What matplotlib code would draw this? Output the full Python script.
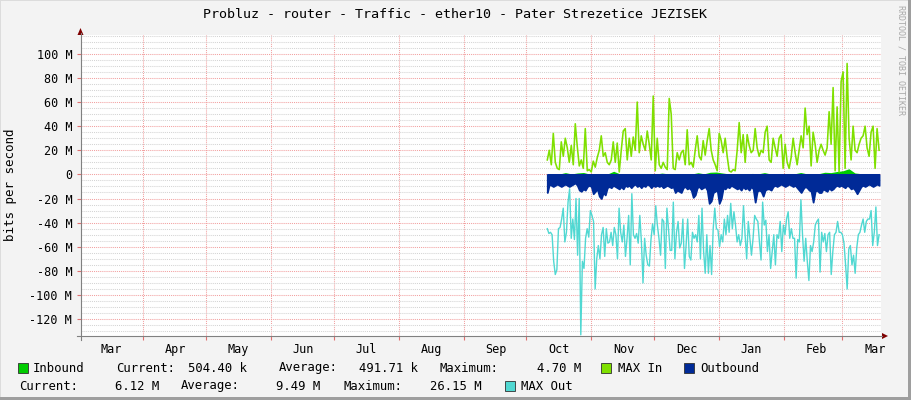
import matplotlib
matplotlib.use("Agg")
import matplotlib.pyplot as plt
import matplotlib.dates as mdates
from matplotlib.patches import Rectangle, Polygon
from matplotlib.lines import Line2D
import numpy as np
from datetime import datetime

plt.rcParams["font.family"] = ["DejaVu Sans Mono"]

# all values in Mbit/s, samples evenly spaced from data_t0 to data_t1
max_in = [12, 20, 8, 34, 10, 5, 4, 27, 15, 30, 22, 10, 24, 8, 42, 23, 7, 12, 5, 38,
          3, 4, 2, 11, 6, 14, 20, 32, 15, 18, 10, 8, 12, 27, 10, 26, 2, 20, 36, 38,
          12, 30, 15, 31, 20, 60, 18, 32, 25, 20, 36, 25, 12, 65, 3, 30, 8, 5, 10, 6,
          4, 63, 50, 5, 4, 18, 12, 18, 20, 8, 37, 8, 10, 6, 20, 32, 15, 12, 28, 16,
          28, 38, 20, 12, 8, 3, 34, 28, 18, 30, 15, 3, 2, 4, 3, 20, 43, 18, 33, 10,
          33, 24, 18, 20, 38, 22, 15, 20, 18, 35, 40, 12, 10, 30, 22, 15, 30, 33, 5, 25,
          10, 5, 14, 30, 18, 8, 20, 32, 22, 55, 33, 40, 7, 35, 25, 10, 20, 25, 20, 16,
          22, 52, 25, 72, 3, 56, 2, 77, 85, 5, 92, 30, 12, 40, 20, 18, 25, 30, 32, 40,
          22, 15, 35, 40, 5, 38, 20]

outbound = [-15, -8, -9, -10, -9, -8, -9, -10, -9, -8, -9, -10, -9, -8, -7, -9, -13, -14, -12, -13,
            -10, -9, -10, -16, -14, -12, -18, -20, -15, -17, -11, -10, -11, -9, -10, -11, -12, -10, -12, -9,
            -10, -9, -11, -9, -8, -10, -9, -11, -9, -10, -8, -9, -11, -9, -10, -9, -10, -9, -11, -10,
            -9, -10, -11, -10, -15, -13, -14, -15, -11, -10, -12, -11, -13, -19, -17, -11, -10, -12, -11, -10,
            -13, -24, -22, -15, -14, -13, -24, -20, -11, -12, -10, -11, -9, -10, -11, -12, -11, -13, -10, -12,
            -11, -13, -10, -12, -23, -14, -13, -14, -18, -13, -12, -12, -13, -10, -9, -10, -9, -8, -9, -10,
            -9, -8, -9, -10, -9, -11, -13, -15, -12, -10, -11, -13, -14, -23, -14, -13, -15, -15, -12, -13,
            -14, -11, -13, -12, -10, -9, -10, -9, -10, -11, -9, -10, -12, -11, -13, -16, -13, -10, -9, -10,
            -9, -8, -9, -10, -9, -8, -9]

max_out = [-45, -49, -48, -50, -72, -83, -79, -45, -44, -37, -28, -56, -48, -23, -12, -53, -37, -54, -20, -67,
           -20, -133, -72, -78, -53, -45, -52, -30, -34, -39, -95, -70, -59, -70, -50, -44, -68, -45, -57, -56,
           -48, -59, -44, -50, -70, -28, -48, -56, -42, -68, -53, -34, -75, -16, -50, -53, -49, -57, -34, -56,
           -90, -53, -67, -75, -76, -54,
           -41, -50, -26, -42, -53, -67, -37, -39, -78, -28, -45, -63, -63, -23, -70, -48, -39, -61, -57, -37,
           -78, -59, -37, -68, -71, -48, -53, -50, -56, -34, -70, -28, -64, -82, -50, -82, -59, -83, -45, -28,
           -45, -46, -60, -50, -56, -37, -50, -34, -48, -24, -45, -31, -42, -56, -50, -59, -53, -26, -50, -70,
           -39, -53, -67, -53, -34, -37, -39, -56, -71, -23, -42,
           -38, -64, -50, -78, -64, -50, -75, -50, -53, -39, -64, -42, -50, -37, -31, -53, -45, -53, -53, -86,
           -54, -56, -21, -50, -72, -53, -72, -88, -59, -64, -56, -42, -39, -37, -81, -48, -56, -49, -64, -50,
           -48, -83, -64, -50, -48, -39, -48, -48, -50, -57, -75, -95, -62, -59, -75, -67, -82, -61, -50, -48,
           -42, -37, -48, -39, -37, -37, -30, -59, -48, -27, -59, -50]

inbound = [0.4, 0.5, 0.3, 1.5, 0.4, 1.2, 1.6, 0.3, 0.4, 0.5, 0.4, 2.6, 0.5, 0.3, 0.4, 0.6,
           0.5, 0.4, 0.3, 1.1, 0.5, 0.4, 0.6, 0.5, 0.4, 1.4, 0.5, 1.8, 2.0, 1.2, 0.5, 0.6,
           0.4, 0.5, 0.8, 0.5, 1.5, 0.4, 0.5, 0.6, 0.4, 0.5, 1.6, 0.5, 0.4, 0.6, 1.8, 1.5,
           2.4, 3.0, 4.7, 1.2, 0.6, 0.4, 0.5, 0.8]

data_t0 = datetime(2018, 10, 11)
data_t1 = datetime(2019, 3, 18, 12)
view_t0 = datetime(2018, 3, 2)
view_t1 = datetime(2019, 3, 19, 10)

title = "Probluz - router - Traffic - ether10 - Pater Strezetice JEZISEK"
month_labels = ["Mar", "Apr", "May", "Jun", "Jul", "Aug", "Sep", "Oct", "Nov", "Dec", "Jan", "Feb", "Mar"]
y_values = [-120, -100, -80, -60, -40, -20, 0, 20, 40, 60, 80, 100]
y_labels = ["-120 M", "-100 M", "-80 M", "-60 M", "-40 M", "-20 M", "0",
            "20 M", "40 M", "60 M", "80 M", "100 M"]

row1_text = ["Inbound", "Current:", "504.40 k", "Average:", "491.71 k", "Maximum:", "4.70 M",
             "MAX In", "Outbound"]
row2_text = ["Current:", "6.12 M", "Average:", "9.49 M", "Maximum:", "26.15 M", "MAX Out"]

c_in = "#00CC00"
c_maxin = "#7FE000"
c_out = "#002A97"
c_maxout = "#50D8D2"
red_grid = "#F2A0A0"
gray_grid = "#D4D4D4"

W, H = 911, 400
fig = plt.figure(figsize=(W / 100, H / 100), dpi=100, facecolor="#F3F3F3")


def fx(x):
    return x / W


def fy(y):
    return 1 - y / H


ax = fig.add_axes([fx(80.5), fy(336), (881 - 80.5) / W, (336 - 35) / H])
ax.set_facecolor("white")
for s in ax.spines.values():
    s.set_visible(False)


def times(vals):
    return np.linspace(mdates.date2num(data_t0), mdates.date2num(data_t1), len(vals))


ax.fill_between(times(inbound), 0, inbound, color=c_in, lw=0, zorder=3, antialiased=False)
ax.plot(times(max_in), max_in, color=c_maxin, lw=1.15, zorder=4)
ax.fill_between(times(outbound), 0, outbound, facecolor=c_out, edgecolor=c_out, lw=1.3, zorder=3.5)
ax.plot(times(max_out), max_out, color=c_maxout, lw=1.0, zorder=4)

ax.set_xlim(mdates.date2num(view_t0), mdates.date2num(view_t1))
ax.set_ylim(-134.0, 115.6)

# month grid at month starts, labels centered in the month
starts = [datetime(2018, m, 1) for m in range(4, 13)] + [datetime(2019, m, 1) for m in range(1, 4)]
mids = [datetime(2018, m, 16, 12) for m in range(3, 13)] + [datetime(2019, m, 16, 12) for m in range(1, 4)]
ax.set_xticks(mdates.date2num(starts))
ax.set_xticks(mdates.date2num(mids), month_labels, minor=True)
ax.set_yticks(y_values, y_labels)
ax.set_yticks(np.arange(-130, 116, 5), minor=True)

ax.set_axisbelow(True)
dot = (0, (1, 1))
ax.xaxis.grid(True, which="major", color=red_grid, ls=dot, lw=0.75)
ax.yaxis.grid(True, which="major", color=red_grid, ls=dot, lw=0.75)
ax.yaxis.grid(True, which="minor", color=gray_grid, ls=dot, lw=0.75)

ax.tick_params(axis="x", which="major", length=3, color="#E07070", labelbottom=False)
ax.tick_params(axis="x", which="minor", length=0, labelsize=8.5, pad=5)
ax.tick_params(axis="y", which="major", length=3, color="#E07070", labelsize=8.5, pad=3)
ax.tick_params(axis="y", which="minor", length=0)

# axis lines and arrows
axc = "#808080"
arrow = "#7F0000"
fig.add_artist(Line2D([fx(80.5), fx(80.5)], [fy(340), fy(33)], color=axc, lw=0.8))
fig.add_artist(Line2D([fx(77), fx(882)], [fy(336), fy(336)], color=axc, lw=0.8))
fig.add_artist(Polygon([(fx(77.5), fy(35)), (fx(83.5), fy(35)), (fx(80.5), fy(28))],
                       closed=True, color=arrow, lw=0))
fig.add_artist(Polygon([(fx(882), fy(333)), (fx(882), fy(339)), (fx(888), fy(336))],
                       closed=True, color=arrow, lw=0))

# frame shading
fig.add_artist(Rectangle((0, fy(1)), 1, 1 / H, transform=fig.transFigure, color="#DCDCDC", lw=0))
fig.add_artist(Rectangle((0, 0), 1 / W, 1, transform=fig.transFigure, color="#DCDCDC", lw=0))
fig.add_artist(Rectangle((0, 0), 1, 3 / H, transform=fig.transFigure, color="#9E9E9E", lw=0))
fig.add_artist(Rectangle((fx(908), 0), 3 / W, 1, transform=fig.transFigure, color="#9E9E9E", lw=0))

fig.text(fx(455), fy(14), title, ha="center", va="center", fontsize=9.6, color="#000000")
fig.text(fx(11), fy(185), "bits per second", rotation=90, ha="center", va="center", fontsize=9)
fig.text(fx(901), fy(5), "RRDTOOL / TOBI OETIKER", rotation=270, ha="center", va="top",
         fontsize=6, color="#A8A8A8")

# legend
row1_x = [33, 116, 188, 279, 359, 440, 537, 618, 700]
row2_x = [19, 115, 181, 276, 343, 430, 521]
for s, x in zip(row1_text, row1_x):
    fig.text(fx(x), fy(368), s, ha="left", va="center", fontsize=8.8)
for s, x in zip(row2_text, row2_x):
    fig.text(fx(x), fy(386), s, ha="left", va="center", fontsize=8.8)
for x, y, c in [(18, 368, c_in), (601, 368, c_maxin), (684, 368, c_out), (505, 386, c_maxout)]:
    fig.add_artist(Rectangle((fx(x), fy(y + 5)), 10 / W, 10 / H, transform=fig.transFigure,
                             facecolor=c, edgecolor="#303030", lw=0.6))

fig.savefig("out.png", dpi=100, facecolor=fig.get_facecolor())
